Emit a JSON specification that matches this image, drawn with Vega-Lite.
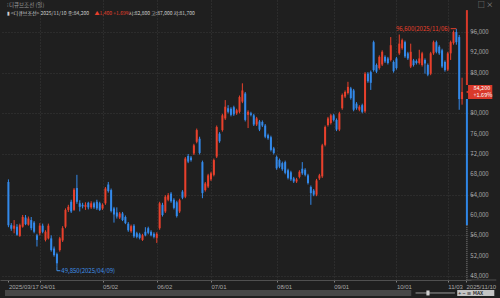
{
"$schema":"https://vega.github.io/schema/vega-lite/v6.json",
"width":471,"height":280,
"autosize":{"type":"none"},
"padding":{"left":0,"top":0,"right":29,"bottom":18},
"background":"#1f1f1f",
"config":{
 "view":{"stroke":null},
 "font":"Liberation Sans Narrow, Noto Sans CJK KR, sans-serif",
 "text":{"font":"Liberation Sans Narrow, Noto Sans CJK KR, sans-serif","fontSize":6,"baseline":"middle","align":"left"},
 "axis":{"labelFont":"Liberation Sans Narrow, Liberation Sans, sans-serif","labelFontSize":6,"labelColor":"#a8a8a8","title":null,"gridColor":"#3a3a3a","gridDash":[1,2],"tickColor":"#808080","tickSize":2,"domain":false,"labelOverlap":false,"labelFlush":false}
},
"datasets":{"ohlc":[
{"i":0,"o":66500,"h":67000,"l":57600,"c":58000},
{"i":1,"o":58000,"h":58400,"l":56900,"c":57300},
{"i":2,"o":57300,"h":59000,"l":56400,"c":57900},
{"i":3,"o":57700,"h":58200,"l":55900,"c":56100},
{"i":4,"o":55900,"h":58300,"l":55700,"c":58000},
{"i":5,"o":57700,"h":60000,"l":57500,"c":59600},
{"i":6,"o":59500,"h":60000,"l":58000,"c":58200},
{"i":7,"o":58100,"h":59700,"l":57900,"c":59300},
{"i":8,"o":59000,"h":59600,"l":57000,"c":57400},
{"i":9,"o":58500,"h":58800,"l":56400,"c":56700},
{"i":10,"o":56000,"h":56300,"l":53800,"c":55100},
{"i":11,"o":56400,"h":58400,"l":56000,"c":57900},
{"i":12,"o":57900,"h":58300,"l":56400,"c":56700},
{"i":13,"o":55100,"h":57000,"l":54800,"c":56700},
{"i":14,"o":55400,"h":58300,"l":55200,"c":57900},
{"i":15,"o":55400,"h":56000,"l":52800,"c":53100},
{"i":16,"o":53400,"h":53800,"l":51800,"c":52100},
{"i":17,"o":52300,"h":52600,"l":49850,"c":50500},
{"i":18,"o":53100,"h":55700,"l":52800,"c":55400},
{"i":19,"o":55000,"h":57800,"l":54700,"c":57400},
{"i":20,"o":57700,"h":61300,"l":57400,"c":61000},
{"i":21,"o":61000,"h":62000,"l":60600,"c":61600},
{"i":22,"o":62600,"h":63000,"l":60400,"c":60700},
{"i":23,"o":61000,"h":65300,"l":60800,"c":65000},
{"i":24,"o":65300,"h":67900,"l":62200,"c":62600},
{"i":25,"o":62300,"h":62900,"l":60700,"c":61600},
{"i":26,"o":62000,"h":62400,"l":61300,"c":61700},
{"i":27,"o":61600,"h":62500,"l":61000,"c":62000},
{"i":28,"o":62400,"h":62600,"l":61100,"c":61500},
{"i":29,"o":61500,"h":62700,"l":61200,"c":62300},
{"i":30,"o":62300,"h":62600,"l":61200,"c":61500},
{"i":31,"o":62600,"h":63000,"l":61000,"c":61300},
{"i":32,"o":62300,"h":62600,"l":60800,"c":61000},
{"i":33,"o":61300,"h":62300,"l":61000,"c":62000},
{"i":34,"o":62300,"h":65500,"l":62000,"c":65200},
{"i":35,"o":66000,"h":66500,"l":64400,"c":64700},
{"i":36,"o":64900,"h":65200,"l":60500,"c":60800},
{"i":37,"o":61300,"h":61600,"l":58500,"c":60100},
{"i":38,"o":60500,"h":61500,"l":59300,"c":59700},
{"i":39,"o":59500,"h":60600,"l":59200,"c":60300},
{"i":40,"o":60300,"h":60600,"l":58800,"c":59000},
{"i":41,"o":59600,"h":59900,"l":58200,"c":58400},
{"i":42,"o":58300,"h":58600,"l":56700,"c":57000},
{"i":43,"o":56800,"h":58100,"l":56500,"c":57800},
{"i":44,"o":57900,"h":58200,"l":55500,"c":55800},
{"i":45,"o":56400,"h":56700,"l":55400,"c":55700},
{"i":46,"o":56200,"h":56500,"l":55200,"c":55500},
{"i":47,"o":55100,"h":56300,"l":54900,"c":56000},
{"i":48,"o":56700,"h":57600,"l":55800,"c":56000},
{"i":49,"o":57400,"h":57700,"l":56200,"c":56500},
{"i":50,"o":56700,"h":57000,"l":55800,"c":56000},
{"i":51,"o":56300,"h":56600,"l":55400,"c":55700},
{"i":52,"o":55500,"h":56600,"l":54500,"c":56300},
{"i":53,"o":57400,"h":62600,"l":57100,"c":62300},
{"i":54,"o":62000,"h":62400,"l":59700,"c":60000},
{"i":55,"o":60700,"h":63900,"l":60400,"c":63600},
{"i":56,"o":63000,"h":64300,"l":62700,"c":63900},
{"i":57,"o":64200,"h":64500,"l":62400,"c":62700},
{"i":58,"o":63000,"h":63300,"l":61100,"c":61400},
{"i":59,"o":62500,"h":62800,"l":59500,"c":59800},
{"i":60,"o":60700,"h":63200,"l":60400,"c":62900},
{"i":61,"o":64600,"h":64900,"l":63100,"c":63400},
{"i":62,"o":63600,"h":71400,"l":63300,"c":71100},
{"i":63,"o":71600,"h":72000,"l":70200,"c":70500},
{"i":64,"o":71300,"h":71600,"l":70500,"c":70800},
{"i":65,"o":72100,"h":74000,"l":71800,"c":73700},
{"i":66,"o":74400,"h":77000,"l":74100,"c":76700},
{"i":67,"o":75000,"h":75400,"l":71900,"c":72200},
{"i":68,"o":70400,"h":70700,"l":63300,"c":64300},
{"i":69,"o":64900,"h":66500,"l":64600,"c":66200},
{"i":70,"o":65600,"h":68100,"l":65300,"c":67800},
{"i":71,"o":67000,"h":68500,"l":66700,"c":68200},
{"i":72,"o":67900,"h":71100,"l":67600,"c":70800},
{"i":73,"o":71500,"h":77600,"l":71200,"c":77300},
{"i":74,"o":76000,"h":76300,"l":74200,"c":74500},
{"i":75,"o":76700,"h":79900,"l":76400,"c":79600},
{"i":76,"o":79000,"h":82600,"l":78700,"c":81300},
{"i":77,"o":81000,"h":81600,"l":80000,"c":80300},
{"i":78,"o":80900,"h":81200,"l":79400,"c":79700},
{"i":79,"o":81200,"h":81500,"l":79500,"c":79800},
{"i":80,"o":80000,"h":80900,"l":79700,"c":80600},
{"i":81,"o":80300,"h":83500,"l":80000,"c":83200},
{"i":82,"o":82300,"h":85900,"l":82000,"c":84500},
{"i":83,"o":83900,"h":84200,"l":78400,"c":78700},
{"i":84,"o":79700,"h":80600,"l":77100,"c":80300},
{"i":85,"o":80000,"h":80300,"l":79400,"c":79700},
{"i":86,"o":79600,"h":79900,"l":77500,"c":77800},
{"i":87,"o":77800,"h":79300,"l":77500,"c":79000},
{"i":88,"o":78400,"h":78700,"l":76500,"c":76800},
{"i":89,"o":78300,"h":78600,"l":77300,"c":77600},
{"i":90,"o":77600,"h":77900,"l":75100,"c":75400},
{"i":91,"o":75700,"h":76000,"l":74800,"c":75100},
{"i":92,"o":75300,"h":75600,"l":72500,"c":72800},
{"i":93,"o":73100,"h":73400,"l":71900,"c":72200},
{"i":94,"o":71400,"h":71700,"l":68900,"c":69200},
{"i":95,"o":70800,"h":71100,"l":69200,"c":69500},
{"i":96,"o":70200,"h":70500,"l":68700,"c":69000},
{"i":97,"o":70400,"h":70700,"l":68000,"c":68300},
{"i":98,"o":68800,"h":69100,"l":67000,"c":67300},
{"i":99,"o":68400,"h":68700,"l":66700,"c":67000},
{"i":100,"o":67200,"h":67500,"l":66300,"c":66600},
{"i":101,"o":66600,"h":67300,"l":66300,"c":67000},
{"i":102,"o":67500,"h":68800,"l":67200,"c":68500},
{"i":103,"o":69100,"h":70400,"l":67900,"c":68200},
{"i":104,"o":68900,"h":69200,"l":67600,"c":67900},
{"i":105,"o":67800,"h":68100,"l":66000,"c":66300},
{"i":106,"o":65500,"h":65800,"l":62000,"c":64300},
{"i":107,"o":64800,"h":65100,"l":63700,"c":64000},
{"i":108,"o":64000,"h":67100,"l":63700,"c":66800},
{"i":109,"o":67200,"h":68100,"l":66900,"c":67800},
{"i":110,"o":67600,"h":74000,"l":67300,"c":73700},
{"i":111,"o":73800,"h":77600,"l":73500,"c":77300},
{"i":112,"o":77700,"h":79300,"l":77400,"c":79000},
{"i":113,"o":78100,"h":79900,"l":77800,"c":79600},
{"i":114,"o":79600,"h":79900,"l":78400,"c":78700},
{"i":115,"o":78700,"h":79000,"l":76500,"c":76800},
{"i":116,"o":76800,"h":80300,"l":76500,"c":80000},
{"i":117,"o":81000,"h":83900,"l":80700,"c":83600},
{"i":118,"o":83300,"h":84500,"l":83000,"c":84200},
{"i":119,"o":84000,"h":86200,"l":83700,"c":85200},
{"i":120,"o":84900,"h":85200,"l":82700,"c":83000},
{"i":121,"o":84500,"h":84800,"l":80400,"c":80700},
{"i":122,"o":81900,"h":82200,"l":80700,"c":81000},
{"i":123,"o":80700,"h":81600,"l":80400,"c":81300},
{"i":124,"o":81600,"h":81900,"l":80000,"c":80300},
{"i":125,"o":80400,"h":88100,"l":80100,"c":87800},
{"i":126,"o":87800,"h":88100,"l":86000,"c":86300},
{"i":127,"o":88100,"h":88400,"l":84600,"c":86000},
{"i":128,"o":94000,"h":94300,"l":88200,"c":88500},
{"i":129,"o":89500,"h":89800,"l":87900,"c":88200},
{"i":130,"o":88900,"h":91400,"l":88600,"c":91100},
{"i":131,"o":89600,"h":92400,"l":89300,"c":92100},
{"i":132,"o":91100,"h":91400,"l":89900,"c":90200},
{"i":133,"o":90800,"h":91100,"l":89600,"c":89900},
{"i":134,"o":90500,"h":95000,"l":90200,"c":93400},
{"i":135,"o":90100,"h":90400,"l":88000,"c":88300},
{"i":136,"o":90800,"h":91100,"l":88600,"c":88900},
{"i":137,"o":91800,"h":95500,"l":91500,"c":93700},
{"i":138,"o":92800,"h":94700,"l":92500,"c":94400},
{"i":139,"o":94000,"h":94300,"l":90900,"c":91200},
{"i":140,"o":91800,"h":92100,"l":90500,"c":90800},
{"i":141,"o":89200,"h":93700,"l":88900,"c":92100},
{"i":142,"o":90400,"h":90700,"l":89200,"c":89500},
{"i":143,"o":90300,"h":90600,"l":89600,"c":89900},
{"i":144,"o":89900,"h":92500,"l":89600,"c":90800},
{"i":145,"o":89500,"h":92100,"l":89200,"c":91800},
{"i":146,"o":90500,"h":90800,"l":87800,"c":89800},
{"i":147,"o":89500,"h":89800,"l":87300,"c":87600},
{"i":148,"o":87800,"h":92100,"l":87500,"c":91800},
{"i":149,"o":91800,"h":94300,"l":91500,"c":94000},
{"i":150,"o":94000,"h":94300,"l":91800,"c":92100},
{"i":151,"o":93100,"h":93400,"l":91500,"c":91800},
{"i":152,"o":92400,"h":92700,"l":88900,"c":89200},
{"i":153,"o":90100,"h":90400,"l":88200,"c":88500},
{"i":154,"o":88600,"h":92100,"l":88300,"c":91800},
{"i":155,"o":91800,"h":94300,"l":90500,"c":94000},
{"i":156,"o":93800,"h":96300,"l":93500,"c":96000},
{"i":157,"o":96000,"h":96600,"l":93500,"c":94000},
{"i":158,"o":95000,"h":95400,"l":80700,"c":82800},
{"i":159,"o":82800,"h":87000,"l":81700,"c":84200}
],
"ticks":[{"v":48000},{"v":52000},{"v":56000},{"v":60000},{"v":64000},{"v":68000},{"v":72000},{"v":76000},{"v":80000},{"v":88000},{"v":92000},{"v":96000}]
},
"layer":[
{"data":{"name":"ohlc"},"mark":{"type":"rule","strokeWidth":1},
 "encoding":{
  "x":{"field":"i","type":"quantitative","scale":{"domain":[-1.2,160.38],"nice":false,"zero":false},
   "axis":{"values":[0,11,33,52,71,94,114,136,154,160.38],
    "labelExpr":"datum.value < 1 ? '2025/03/17' : datum.value > 160 ? '2025/11/10' : ['04/01','05/02','06/02','07/01','08/01','09/01','10/01','11/03'][indexof([11,33,52,71,94,114,136,154], datum.value)]",
    "labelAlign":"left","labelPadding":1,"labelOverlap":false,"labelFlush":false,"grid":true,
    "gridOpacity":{"condition":{"test":"datum.value < 1 || datum.value > 160","value":0},"value":1},
    "domain":true,"domainColor":"#505050","tickSize":2}},
  "y":{"field":"l","type":"quantitative","scale":{"domain":[47213,102290],"nice":false,"zero":false},
   "axis":{"orient":"right","values":[48000,52000,56000,60000,64000,68000,72000,76000,80000,84000,88000,92000,96000],"labels":false,"grid":true,"tickSize":2}},
  "y2":{"field":"h"},
  "color":{"condition":{"test":"datum.c >= datum.o","value":"#e8402c"},"value":"#3389ea"}
 }},
{"data":{"name":"ohlc"},"mark":{"type":"bar","width":2},
 "encoding":{
  "x":{"field":"i","type":"quantitative"},
  "y":{"field":"o","type":"quantitative"},
  "y2":{"field":"c"},
  "color":{"condition":{"test":"datum.c >= datum.o","value":"#e8402c"},"value":"#3389ea"}
 }},
{"data":{"name":"ticks"},"mark":{"type":"text","color":"#a8a8a8","fontSize":6},
 "encoding":{"x":{"datum":161.9},"y":{"field":"v","type":"quantitative"},"text":{"field":"v","type":"quantitative","format":","}}},
{"data":{"values":[{}]},"mark":{"type":"rule","color":"#3f8fe6","strokeWidth":1},"encoding":{"x":{"datum":17},"y":{"datum":49850},"y2":{"datum":49040}}},
{"data":{"values":[{}]},"mark":{"type":"rule","color":"#3f8fe6","strokeWidth":1},"encoding":{"x":{"datum":17},"x2":{"datum":18.2},"y":{"datum":49040}}},
{"data":{"values":[{}]},"mark":{"type":"text","color":"#3f8fe6","text":"49,850(2025/04/09)","dx":1},"encoding":{"x":{"datum":18.2},"y":{"datum":49040}}},
{"data":{"values":[{}]},"mark":{"type":"rule","color":"#e8402c","strokeWidth":1},"encoding":{"x":{"datum":155.0},"x2":{"datum":157},"y":{"datum":96650}}},
{"data":{"values":[{}]},"mark":{"type":"text","color":"#e8402c","text":"96,600(2025/11/06)","align":"right","dx":-1},"encoding":{"x":{"datum":155.0},"y":{"datum":96650}}},
{"data":{"values":[{}]},"mark":{"type":"rule","color":"#d9392a","strokeWidth":2},"encoding":{"x":{"datum":160.7},"y":{"datum":100300},"y2":{"datum":85570}}},
{"data":{"values":[{}]},"mark":{"type":"rule","color":"#2f86e6","strokeWidth":2},"encoding":{"x":{"datum":160.7},"y":{"datum":82815},"y2":{"datum":58000}}},
{"data":{"values":[{}]},"mark":{"type":"rule","color":"#8a8a8a","strokeWidth":1,"strokeDash":[1,1]},"encoding":{"x":{"datum":160.7},"y":{"datum":58000},"y2":{"datum":47213}}},
{"data":{"values":[{}]},"mark":{"type":"rule","color":"#505050","strokeWidth":1},"encoding":{"x":{"datum":160.38},"x2":{"datum":171},"y":{"datum":47213}}},
{"data":{"values":[{}]},"mark":{"type":"rect","color":"#d9392a"},"encoding":{"x":{"datum":161.1},"x2":{"datum":169.6},"y":{"datum":85570},"y2":{"datum":82815}}},
{"data":{"values":[{}]},"mark":{"type":"point","shape":"triangle-left","filled":true,"opacity":1,"size":14,"color":"#d9392a"},"encoding":{"x":{"datum":160.9},"y":{"datum":84200}}},
{"data":{"values":[{}]},"mark":{"type":"text","color":"#ffffff","text":"84,200","fontSize":5.5},"encoding":{"x":{"datum":163.0},"y":{"datum":85000}}},
{"data":{"values":[{}]},"mark":{"type":"text","color":"#ffffff","text":"+1.69%","fontSize":5.5},"encoding":{"x":{"datum":163.0},"y":{"datum":83520}}},
{"data":{"values":[{}]},"mark":{"type":"text","color":"#9a9a9a","text":"⁝ 디큐브조선 (일)","fontSize":5.5},"encoding":{"x":{"datum":-0.6},"y":{"datum":101306}}},
{"data":{"values":[{}]},"mark":{"type":"text","color":"#cfcfcf","text":"▮ <디큐브조선> 2025/11/10 종:84,200","fontSize":5},"encoding":{"x":{"datum":-0.6},"y":{"datum":99792}}},
{"data":{"values":[{}]},"mark":{"type":"text","color":"#e8402c","text":"▲1,400   +1.69%","fontSize":5},"encoding":{"x":{"datum":30.2},"y":{"datum":99792}}},
{"data":{"values":[{}]},"mark":{"type":"text","color":"#cfcfcf","text":"시:82,800 고:87,000 저:81,700","fontSize":5},"encoding":{"x":{"datum":42.2},"y":{"datum":99792}}},
{"data":{"values":[{}]},"mark":{"type":"text","color":"#9a9a9a","text":"□ ×","fontSize":7},"encoding":{"x":{"datum":164.5},"y":{"datum":101306}}},
{"data":{"values":[{}]},"mark":{"type":"rect","color":"#474747"},"encoding":{"x":{"datum":-1.2},"x2":{"datum":141.2},"y":{"datum":45246},"y2":{"datum":44066}}},
{"data":{"values":[{}]},"mark":{"type":"rule","color":"#9a9a9a","strokeWidth":1},"encoding":{"x":{"datum":142.7},"x2":{"datum":156.5},"y":{"datum":44660}}},
{"data":{"values":[{}]},"mark":{"type":"rect","color":"#d0d0d0"},"encoding":{"x":{"datum":146.5},"x2":{"datum":147.6},"y":{"datum":45150},"y2":{"datum":44170}}},
{"data":{"values":[{}]},"mark":{"type":"rect","color":"#c4c4c4"},"encoding":{"x":{"datum":157.3},"x2":{"datum":170.3},"y":{"datum":45246},"y2":{"datum":44066}}},
{"data":{"values":[{}]},"mark":{"type":"text","color":"#333333","text":"+  −  ≡  MAX","fontSize":5,"fontWeight":"bold"},"encoding":{"x":{"datum":157.7},"y":{"datum":44656}}}
]
}
